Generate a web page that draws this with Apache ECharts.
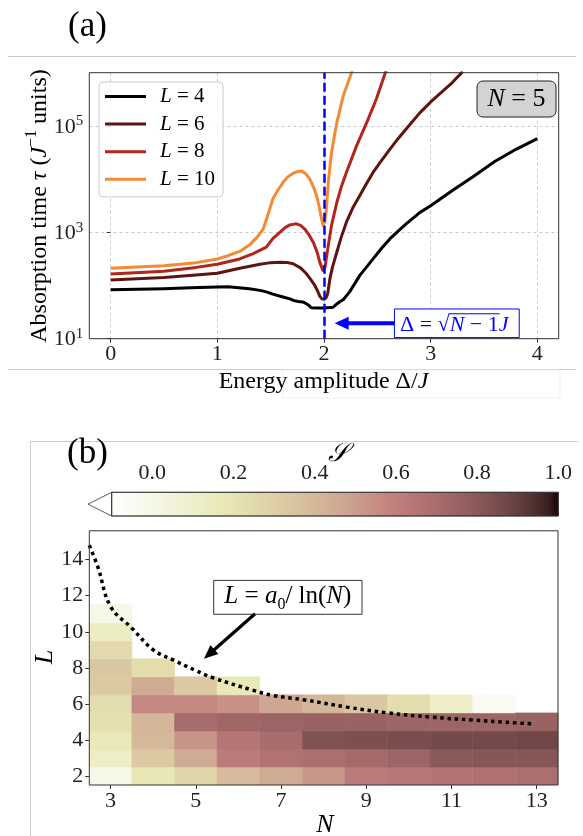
<!DOCTYPE html>
<html><head><meta charset="utf-8">
<script src="https://cdn.jsdelivr.net/npm/echarts@6/dist/echarts.min.js"></script>
<style>html,body{margin:0;padding:0;background:#fff}#c{width:583px;height:836px}</style>
</head><body><div id="c"></div>
<script>
// ---------------- Panel (a) data: absorption time vs Δ/J ----------------
const xL4 = [0, 0.5, 0.75, 1.0, 1.1, 1.2, 1.3, 1.4, 1.46, 1.52, 1.6, 1.68, 1.72, 1.76, 1.8, 1.83, 1.86, 1.88, 1.95, 2.0, 2.086, 2.12, 2.15, 2.18, 2.24, 2.336, 2.4, 2.46, 2.54, 2.617, 2.7, 2.77, 2.9, 3.0, 3.2, 3.4, 3.6, 3.8, 4.0];
const tauL4 = [83, 87, 91, 94, 95, 91, 87, 81, 76, 69, 62, 56, 52, 50, 49, 46, 42, 38, 37.6, 37.6, 39, 45, 50, 54, 76, 155, 224, 316, 501, 750, 1072, 1445, 2371, 3162, 6026, 11220, 21380, 36310, 57540];
const xL6 = [0, 0.5, 0.8, 1.0, 1.2, 1.4, 1.5, 1.586, 1.65, 1.71, 1.78, 1.836, 1.88, 1.914, 1.94, 1.96, 1.98, 2.0, 2.02, 2.035, 2.055, 2.08, 2.12, 2.16, 2.21, 2.27, 2.336, 2.4, 2.46, 2.54, 2.617, 2.69, 2.77, 2.9, 3.0, 3.1, 3.2, 3.3];
const tauL6 = [127, 141, 158, 170, 209, 251, 269, 275, 272, 257, 214, 166, 126, 100, 79, 63, 56, 55, 59, 71, 133, 224, 422, 794, 1549, 2884, 4898, 8318, 13340, 22390, 36310, 56230, 87100, 177800, 281800, 426600, 645700, 1047000];
const xL8 = [0, 0.5, 0.8, 1.0, 1.21, 1.336, 1.46, 1.52, 1.586, 1.63, 1.68, 1.74, 1.78, 1.82, 1.86, 1.9, 1.935, 1.96, 1.99, 2.01, 2.03, 2.07, 2.12, 2.16, 2.21, 2.305, 2.4, 2.49, 2.57, 2.6];
const tauL8 = [165, 186, 219, 251, 316, 398, 525, 759, 1000, 1202, 1380, 1445, 1349, 1148, 891, 646, 427, 275, 191, 224, 422, 1334, 3631, 6918, 13340, 42170, 114800, 316200, 933000, 1413000];
const xL10 = [0, 0.5, 0.8, 1.0, 1.1, 1.21, 1.3, 1.37, 1.43, 1.47, 1.52, 1.57, 1.617, 1.66, 1.71, 1.75, 1.79, 1.83, 1.867, 1.9, 1.93, 1.955, 1.977, 1.992, 2.005, 2.02, 2.04, 2.07, 2.12, 2.18, 2.258, 2.3];
const tauL10 = [211, 234, 269, 316, 363, 437, 575, 794, 1148, 1995, 4217, 6310, 8710, 10960, 12880, 13800, 14130, 12590, 10000, 7244, 4898, 3020, 1778, 1334, 1585, 2371, 8710, 31620, 114800, 363100, 1000000, 1995000];
const lineNames = ['L = 4', 'L = 6', 'L = 8', 'L = 10'];
const xTicksA = [0, 1, 2, 3, 4];
const yTicksA = [10, 1000, 100000];
const deltaCritical = 2;

// ---------------- Panel (b) data: S(N, L) ----------------
const nValues = [3, 4, 5, 6, 7, 8, 9, 10, 11, 12, 13];
// S values for each N, listed from L = 2 upward
const sN3 = [0.00, 0.12, 0.17, 0.22, 0.23, 0.33, 0.34, 0.25, 0.13, 0.00];
const sN4 = [0.18, 0.33, 0.40, 0.41, 0.57, 0.45, 0.24];
const sN5 = [0.27, 0.45, 0.53, 0.70, 0.57, 0.33];
const sN6 = [0.39, 0.62, 0.65, 0.73, 0.54, 0.17];
const sN7 = [0.45, 0.67, 0.70, 0.74, 0.47];
const sN8 = [0.52, 0.69, 0.83, 0.75, 0.41];
const sN9 = [0.62, 0.71, 0.84, 0.75, 0.34];
const sN10 = [0.64, 0.74, 0.85, 0.74, 0.23];
const sN11 = [0.66, 0.80, 0.86, 0.74, 0.11];
const sN12 = [0.68, 0.81, 0.86, 0.74, -0.04];
const sN13 = [0.69, 0.81, 0.87, 0.75];
const lStart = 2;
// dotted fit curve L = a0/ln(N)
const curveN = [2.5, 2.7, 3.0, 3.5, 4.0, 4.5, 5.0, 5.4, 6.35, 6.8, 7.55, 8.55, 9.5, 10.5, 11.5, 12.3, 12.95];
const curveL = [14.8, 13.6, 11.4, 10.2, 9.0, 8.4, 7.85, 7.45, 6.75, 6.47, 6.22, 5.82, 5.5, 5.27, 5.1, 4.98, 4.88];
const xTicksB = [3, 5, 7, 9, 11, 13];
const yTicksB = [2, 4, 6, 8, 10, 12, 14];
const cbTicks = [0.0, 0.2, 0.4, 0.6, 0.8, 1.0];
const cbMin = -0.1, cbMax = 1.0;

// ---------------- styling helpers ----------------
const SERIF = 'Liberation Serif';
const lineColors = ['#000000', '#5e1510', '#b3241c', '#f28a36'];
function pinkR(t) { // matplotlib "pink_r" colormap
  const v = 1 - t;
  const hr = v < 0.365079 ? 0.0416 + (1 - 0.0416) * v / 0.365079 : 1;
  const hg = v < 0.365079 ? 0 : (v < 0.746032 ? (v - 0.365079) / (0.746032 - 0.365079) : 1);
  const hb = v < 0.746032 ? 0 : (v - 0.746032) / (1 - 0.746032);
  const c = x => Math.round(255 * Math.min(1, Math.sqrt((2 * v + x) / 3)));
  return 'rgb(' + c(hr) + ',' + c(hg) + ',' + c(hb) + ')';
}
const NSTOP = 45;
const cmapColors = [], cmapStops = [];
for (let i = 0; i < NSTOP; i++) {
  const t = i / (NSTOP - 1);
  cmapColors.push(pinkR(t));
  cmapStops.push({ offset: t, color: pinkR(t) });
}

function zip(xs, ys) { return xs.map((x, i) => [x, ys[i]]); }
const sCols = [sN3, sN4, sN5, sN6, sN7, sN8, sN9, sN10, sN11, sN12, sN13];
const heatData = [];
sCols.forEach((col, ci) => col.forEach((s, li) => heatData.push([nValues[ci], lStart + li, s])));

const chart = echarts.init(document.getElementById('c'));
const option = {
  animation: false,
  backgroundColor: '#fff',
  grid: [
    { left: 89.3, right: 24.3, top: 72.7, bottom: 497.3, show: true, borderColor: '#333', borderWidth: 1, backgroundColor: 'transparent', z: 10 },
    { left: 89.3, right: 25, top: 530.8, bottom: 51, show: true, borderColor: '#333', borderWidth: 1, backgroundColor: 'transparent', z: 10 },
    { left: 111.7, right: 24.7, top: 492.3, height: 23.7, show: false }
  ],
  legend: {
    orient: 'vertical', left: 99, top: 82,
    data: lineNames,
    icon: 'rect', itemWidth: 41, itemHeight: 3, itemGap: 6.6,
    padding: [4, 8, 7, 6],
    backgroundColor: 'rgba(255,255,255,0.8)', borderColor: '#cccccc', borderWidth: 1, borderRadius: 4,
    formatter: name => '{i|L}{n|' + name.slice(1) + '}',
    textStyle: {
      fontFamily: SERIF, fontSize: 20, lineHeight: 20, color: '#000', padding: [0, 0, 0, 9],
      rich: { n: { fontFamily: SERIF, fontSize: 21, lineHeight: 20 }, i: { fontFamily: SERIF, fontStyle: 'italic', fontSize: 21, lineHeight: 20 } }
    }
  },
  visualMap: [{
    type: 'continuous', show: false, min: cbMin, max: cbMax, dimension: 2, seriesIndex: 4,
    inRange: { color: cmapColors }
  }],
  xAxis: [
    {
      type: 'value', gridIndex: 0, min: -0.2, max: 4.2,
      axisLine: { show: false },
      axisTick: { show: true, customValues: xTicksA, length: 4, lineStyle: { color: '#333' } },
      axisLabel: { customValues: xTicksA, margin: 5, fontFamily: SERIF, fontSize: 22, color: '#222' },
      splitLine: { show: true, lineStyle: { color: '#bbbbbb', type: [3, 3], width: 0.8 } }
    },
    {
      type: 'value', gridIndex: 1, min: 2.5, max: 13.5,
      axisLine: { show: false },
      axisTick: { show: true, customValues: xTicksB, length: 4, lineStyle: { color: '#333' } },
      axisLabel: { customValues: xTicksB, margin: 5, fontFamily: SERIF, fontSize: 22, color: '#222' },
      splitLine: { show: false }
    },
    {
      type: 'value', gridIndex: 2, min: cbMin, max: cbMax, position: 'top',
      axisLine: { show: false },
      axisTick: { show: true, customValues: cbTicks, length: 5, lineStyle: { color: '#333' } },
      axisLabel: { customValues: cbTicks, margin: 8, fontFamily: SERIF, fontSize: 22, color: '#222', formatter: v => v.toFixed(1) },
      splitLine: { show: false }
    }
  ],
  yAxis: [
    {
      type: 'log', gridIndex: 0, min: 10, max: 1000000, logBase: 10,
      axisLine: { show: false },
      axisTick: { show: true, customValues: yTicksA, length: 4, lineStyle: { color: '#333' } },
      axisLabel: {
        customValues: yTicksA, margin: 6, color: '#222',
        formatter: v => '{b|10}{s|' + Math.round(Math.log10(v)) + '}',
        rich: {
          b: { fontFamily: SERIF, fontSize: 22, lineHeight: 24, verticalAlign: 'bottom', color: '#222' },
          s: { fontFamily: SERIF, fontSize: 15, lineHeight: 24, verticalAlign: 'top', color: '#222' }
        }
      },
      splitLine: { show: true, lineStyle: { color: '#bbbbbb', type: [3, 3], width: 0.8 } }
    },
    {
      type: 'value', gridIndex: 1, min: 1.5, max: 15.6,
      axisLine: { show: false },
      axisTick: { show: true, customValues: yTicksB, length: 4, lineStyle: { color: '#333' } },
      axisLabel: { customValues: yTicksB, margin: 6, fontFamily: SERIF, fontSize: 22, color: '#222' },
      splitLine: { show: false }
    },
    { type: 'value', gridIndex: 2, min: 0, max: 1, show: false }
  ],
  series: [
    ...[[xL4, tauL4], [xL6, tauL6], [xL8, tauL8], [xL10, tauL10]].map((d, i) => ({
      name: lineNames[i], type: 'line', xAxisIndex: 0, yAxisIndex: 0,
      data: zip(d[0], d[1]), showSymbol: false, symbol: 'none', smooth: false,
      lineStyle: { color: lineColors[i], width: 3, join: 'round' }, itemStyle: { color: lineColors[i] },
      clip: true, z: 3,
      markLine: i === 3 ? {
        silent: true, symbol: ['none', 'none'], label: { show: false },
        lineStyle: { color: '#0000ff', type: [9, 4], width: 2.5 },
        data: [{ xAxis: deltaCritical }]
      } : undefined
    })),
    {
      name: 'S', type: 'custom', xAxisIndex: 1, yAxisIndex: 1, clip: true, z: 2,
      data: heatData, encode: { x: 0, y: 1 },
      renderItem: (params, api) => {
        const n = api.value(0), l = api.value(1);
        const p0 = api.coord([n - 0.5, l + 0.5]);
        const p1 = api.coord([n + 0.5, l - 0.5]);
        const col = api.visual('color');
        return { type: 'rect', shape: { x: p0[0], y: p0[1], width: p1[0] - p0[0], height: p1[1] - p0[1] },
          style: { fill: col, stroke: col, lineWidth: 0.6 } };
      }
    },
    {
      name: 'fit', type: 'line', xAxisIndex: 1, yAxisIndex: 1, data: zip(curveN, curveL),
      showSymbol: false, symbol: 'none', smooth: 0.4, z: 5,
      lineStyle: { color: '#000', width: 3.5, type: [3.5, 3.8], cap: 'butt' }
    },
    {
      name: 'colorbar', type: 'custom', xAxisIndex: 2, yAxisIndex: 2, data: [[0, 0]], z: 2,
      renderItem: (params, api) => {
        const p0 = api.coord([cbMin, 1]);
        const p1 = api.coord([cbMax, 0]);
        const h = p1[1] - p0[1];
        return { type: 'group', children: [
          { type: 'polygon', shape: { points: [[p0[0], p0[1]], [p0[0] - h, p0[1] + h / 2], [p0[0], p1[1]]] },
            style: { fill: '#ffffff', stroke: '#333', lineWidth: 0.8 } },
          { type: 'rect', shape: { x: p0[0], y: p0[1], width: p1[0] - p0[0], height: h },
            style: { fill: { type: 'linear', x: 0, y: 0, x2: 1, y2: 0, colorStops: cmapStops }, stroke: '#333', lineWidth: 0.8 } }
        ] };
      }
    }
  ]
};
chart.setOption(option);

// ---------------- annotations ----------------
const A = (x, y) => chart.convertToPixel({ gridIndex: 0 }, [x, y]);
const B = (x, y) => chart.convertToPixel({ gridIndex: 1 }, [x, y]);
const aTip = A(2.1, 19.5), aTail = A(2.66, 19.5);
const aBoxL = A(2.66, 19.5), aBoxR = A(3.83, 19.5);
const bTip = B(5.19, 8.5), bTail = B(6.39, 11.0);
const bBox0 = B(5.42, 12.85), bBox1 = B(8.9, 10.97);

const mctx = document.createElement('canvas').getContext('2d');
function tw(txt, font) { mctx.font = font; return mctx.measureText(txt).width; }
const DF = 22;
const wPre = tw('Δ = √', DF + 'px "' + SERIF + '"');
const wN = tw('N', 'italic ' + DF + 'px "' + SERIF + '"');
const wM = tw(' − 1', DF + 'px "' + SERIF + '"');

function arrow(tail, tip, color, shaft, headLen, headW, z) {
  const dx = tip[0] - tail[0], dy = tip[1] - tail[1];
  const len = Math.hypot(dx, dy), ux = dx / len, uy = dy / len, px = -uy, py = ux;
  const bx = tip[0] - ux * headLen, by = tip[1] - uy * headLen;
  return [
    { type: 'line', z: z, shape: { x1: tail[0], y1: tail[1], x2: bx + ux, y2: by + uy }, style: { stroke: color, lineWidth: shaft } },
    { type: 'polygon', z: z, shape: { points: [tip, [bx + px * headW / 2, by + py * headW / 2], [bx - px * headW / 2, by - py * headW / 2]] }, style: { fill: color } }
  ];
}

const txL = 400;
const gr = [
  // panel separators
  { type: 'line', shape: { x1: 8, y1: 56.5, x2: 576, y2: 56.5 }, style: { stroke: '#cccccc', lineWidth: 1 }, z: 0 },
  { type: 'line', shape: { x1: 8, y1: 369.5, x2: 576, y2: 369.5 }, style: { stroke: '#cccccc', lineWidth: 1 }, z: 0 },
  { type: 'rect', shape: { x: 283, y: 370, width: 277, height: 28 }, style: { fill: '#ffffff', stroke: '#eeeeee', lineWidth: 1 }, z: 1 },
  { type: 'line', shape: { x1: 30.5, y1: 441.5, x2: 578, y2: 441.5 }, style: { stroke: '#cccccc', lineWidth: 1 }, z: 0 },
  { type: 'line', shape: { x1: 30.5, y1: 441.5, x2: 30.5, y2: 836 }, style: { stroke: '#cccccc', lineWidth: 1 }, z: 0 },
  // panel labels
  { type: 'text', x: 87.5, y: 27, z: 20, style: { text: '(a)', font: '35px "' + SERIF + '"', fill: '#000', align: 'center', verticalAlign: 'middle' } },
  { type: 'text', x: 87.5, y: 454, z: 20, style: { text: '(b)', font: '35px "' + SERIF + '"', fill: '#000', align: 'center', verticalAlign: 'middle' } },
  // axis titles panel (a)
  { type: 'text', x: 323.5, y: 382, z: 20, style: {
      text: '{n|Energy amplitude Δ/}{i|J}', align: 'center', verticalAlign: 'middle',
      rich: { n: { fontFamily: SERIF, fontSize: 24, fill: '#000' }, i: { fontFamily: SERIF, fontStyle: 'italic', fontSize: 24, fill: '#000' } } } },
  { type: 'text', x: 38, y: 206, rotation: Math.PI / 2, z: 20, style: {
      text: '{n|Absorption time }{i|τ}{n| (}{i|J}{s|−1}{n| units)}', align: 'center', verticalAlign: 'middle',
      rich: {
        n: { fontFamily: SERIF, fontSize: 24, lineHeight: 28, verticalAlign: 'bottom', fill: '#000' },
        i: { fontFamily: SERIF, fontStyle: 'italic', fontSize: 24, lineHeight: 28, verticalAlign: 'bottom', fill: '#000' },
        s: { fontFamily: SERIF, fontSize: 16, lineHeight: 28, verticalAlign: 'top', fill: '#000' } } } },
  // N = 5 box
  { type: 'rect', z: 20, shape: { x: 477, y: 81, width: 79, height: 36, r: 6 }, style: { fill: '#d3d3d3', stroke: '#222', lineWidth: 1 } },
  { type: 'text', x: 516.5, y: 99.5, z: 21, style: {
      text: '{i|N}{n| = 5}', align: 'center', verticalAlign: 'middle',
      rich: { n: { fontFamily: SERIF, fontSize: 26, fill: '#000' }, i: { fontFamily: SERIF, fontStyle: 'italic', fontSize: 26, fill: '#000' } } } },
  // Δ annotation box
  { type: 'rect', z: 20, shape: { x: aBoxL[0], y: aBoxL[1] - 14.3, width: aBoxR[0] - aBoxL[0], height: 28.6 }, style: { fill: '#ffffff', stroke: '#0000ff', lineWidth: 1 } },
  { type: 'text', x: txL, y: aBoxL[1] + 1.5, z: 21, style: {
      text: '{n|Δ = √}{i|N}{n| − 1}{i|J}', align: 'left', verticalAlign: 'middle',
      rich: { n: { fontFamily: SERIF, fontSize: DF, fill: '#0000ff' }, i: { fontFamily: SERIF, fontStyle: 'italic', fontSize: DF, fill: '#0000ff' } } } },
  { type: 'line', z: 21, shape: { x1: txL + wPre - 1, y1: aBoxL[1] - 9.5, x2: txL + wPre + wN + wM + 1, y2: aBoxL[1] - 9.5 }, style: { stroke: '#0000ff', lineWidth: 1 } },
  ...arrow(aTail, aTip, '#0000ff', 4, 14, 13, 20),
  // panel (b) labels
  { type: 'text', x: 45, y: 657, rotation: Math.PI / 2, z: 20, style: { text: 'L', font: 'italic 26px "' + SERIF + '"', fill: '#000', align: 'center', verticalAlign: 'middle' } },
  { type: 'text', x: 325, y: 825, z: 20, style: { text: 'N', font: 'italic 26px "' + SERIF + '"', fill: '#000', align: 'center', verticalAlign: 'middle' } },
  { type: 'text', x: 338, y: 454, z: 20, style: { text: '𝒮', font: 'italic 26px "DejaVu Serif"', fill: '#000', align: 'center', verticalAlign: 'middle' } },
  // fit annotation
  { type: 'rect', z: 20, shape: { x: bBox0[0], y: bBox0[1], width: bBox1[0] - bBox0[0], height: bBox1[1] - bBox0[1] }, style: { fill: '#ffffff', stroke: '#333', lineWidth: 1 } },
  { type: 'text', x: (bBox0[0] + bBox1[0]) / 2, y: (bBox0[1] + bBox1[1]) / 2 + 1, z: 21, style: {
      text: '{i|L}{n| = }{i|a}{sub|0}{n|/ ln(}{i|N}{n|)}', align: 'center', verticalAlign: 'middle',
      rich: {
        n: { fontFamily: SERIF, fontSize: 25, lineHeight: 28, verticalAlign: 'top', fill: '#000' },
        i: { fontFamily: SERIF, fontStyle: 'italic', fontSize: 25, lineHeight: 28, verticalAlign: 'top', fill: '#000' },
        sub: { fontFamily: SERIF, fontSize: 16, lineHeight: 28, verticalAlign: 'bottom', fill: '#000' } } } },
  ...arrow(bTail, bTip, '#000000', 3.2, 14, 12, 20)
];
chart.setOption({ graphic: gr });
</script></body></html>
